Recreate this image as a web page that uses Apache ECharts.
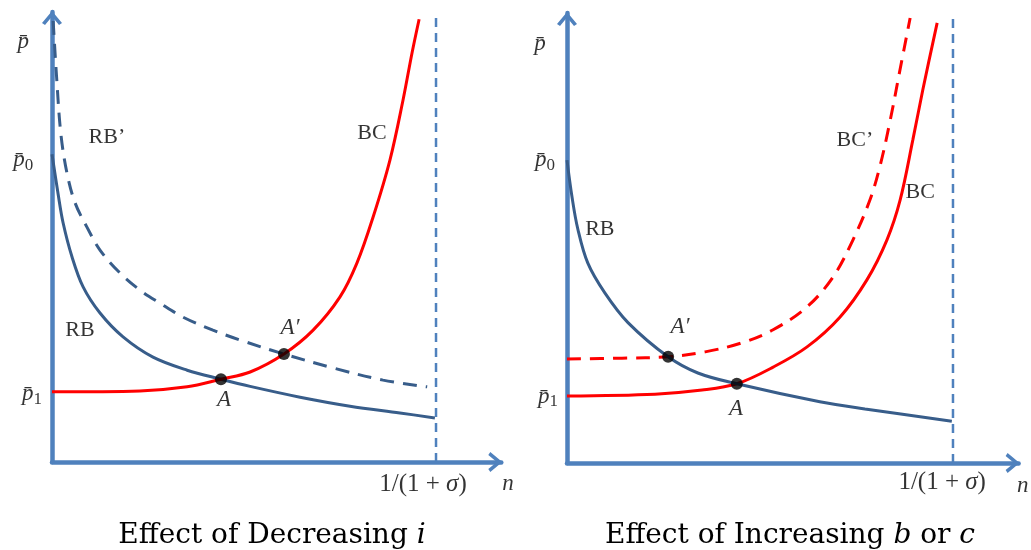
<!DOCTYPE html>
<html>
<head>
<meta charset="utf-8">
<script src="https://cdn.jsdelivr.net/npm/echarts@6/dist/echarts.min.js"></script>
<style>
html,body{margin:0;padding:0;background:#fff;}
#chart{width:1031px;height:550px;}
</style>
</head>
<body>
<div id="chart"></div>
<script>
// ---- data (n in units of 1/(1+sigma), p in arbitrary units 0..10) ----
const leftBC   = [[0,1.56],[0.229,1.58],[0.352,1.67],[0.44,1.84],[0.516,2.0],[0.604,2.4],[0.68,2.93],[0.75,3.67],[0.794,4.42],[0.836,5.44],[0.88,6.71],[0.914,8.04],[0.9375,9.09],[0.956,9.84]];
const leftRB   = [[0,6.84],[0.016,5.95],[0.029,5.31],[0.052,4.56],[0.081,3.89],[0.125,3.31],[0.185,2.78],[0.263,2.33],[0.352,2.04],[0.44,1.84],[0.516,1.68],[0.646,1.44],[0.776,1.24],[0.906,1.09],[0.997,0.98]];
const leftRBp  = [[0.003,9.8],[0.012,8.55],[0.023,7.3],[0.039,6.42],[0.06,5.76],[0.091,5.22],[0.125,4.71],[0.177,4.2],[0.229,3.82],[0.281,3.53],[0.341,3.22],[0.419,2.93],[0.49,2.71],[0.604,2.4],[0.732,2.09],[0.862,1.82],[0.977,1.67]];
const leftPts  = [[0.44,1.84],[0.604,2.4]];

const rightRB  = [[0,6.73],[0.013,5.91],[0.028,5.2],[0.054,4.44],[0.098,3.78],[0.158,3.12],[0.262,2.36],[0.339,2.0],[0.44,1.76],[0.655,1.36],[0.772,1.2],[0.997,0.93]];
const rightBC  = [[0,1.49],[0.228,1.53],[0.35,1.62],[0.44,1.76],[0.534,2.13],[0.622,2.58],[0.707,3.24],[0.777,4.07],[0.829,4.96],[0.863,5.84],[0.896,7.18],[0.922,8.3],[0.959,9.78]];
const rightBCp = [[0,2.31],[0.142,2.33],[0.262,2.36],[0.358,2.47],[0.453,2.67],[0.534,2.96],[0.622,3.47],[0.689,4.13],[0.741,4.96],[0.785,5.85],[0.811,6.6],[0.837,7.6],[0.863,8.75],[0.889,9.89]];
const rightPts = [[0.44,1.76],[0.262,2.36]];

const asymptote = [[1,0],[1,9.87]];

// annotation anchors: [x, y, text]
const SIGMA_LABEL = '{b|1/(1 + }{bm|\u03c3}{b|)}';
const leftNotes  = [[-0.075,9.33,'{m|p\u0304}'],[-0.075,6.71,'{m|p\u0304}{s|0}'],[-0.052,1.51,'{m|p\u0304}{s|1}'],
                    [0.143,7.22,'{r|RB\u2019}'],[0.833,7.31,'{r|BC}'],[0.073,2.93,'{r|RB}'],
                    [0.62,2.98,'{m|A\u2032}'],[0.448,1.38,'{m|A}'],
                    [0.966,-0.49,SIGMA_LABEL],[1.1875,-0.49,'{m|n}']];
const rightNotes = [[-0.07,9.31,'{m|p\u0304}'],[-0.057,6.73,'{m|p\u0304}{s|0}'],[-0.049,1.47,'{m|p\u0304}{s|1}'],
                    [0.085,5.2,'{r|RB}'],[0.746,7.18,'{r|BC\u2019}'],[0.915,6.02,'{r|BC}'],
                    [0.293,3.02,'{m|A\u2032}'],[0.438,1.2,'{m|A}'],
                    [0.972,-0.44,SIGMA_LABEL],[1.181,-0.51,'{m|n}']];
const titles = ['Effect of Decreasing {m|i}', 'Effect of Increasing {m|b} or {m|c}'];

// ---- styling ----
const AXIS = '#4f81bd', NAVY = '#385d8a', RED = '#ff0000';
const SERIF = '"Liberation Serif", "DejaVu Serif", serif';
const TSERIF = '"DejaVu Serif", "Liberation Serif", serif';
const rich = {
  m: {fontFamily: SERIF, fontStyle: 'italic', fontSize: 23, color: '#000', textBorderWidth: 0},
  s: {fontFamily: SERIF, fontSize: 17, color: '#000', padding: [10, 0, 0, 0], textBorderWidth: 0},
  r: {fontFamily: SERIF, fontSize: 22, color: '#000', textBorderWidth: 0},
  b: {fontFamily: SERIF, fontSize: 25, color: '#000', textBorderWidth: 0},
  bm: {fontFamily: SERIF, fontStyle: 'italic', fontSize: 25, color: '#000', textBorderWidth: 0}
};
const chevron = 'path://M0,12 L10,0 L20,12 L17,14 L10,5.5 L3,14 Z';

function xAx(i) {
  return {type: 'value', gridIndex: i, min: 0, max: 1.17,
    axisLine: {show: true, lineStyle: {color: AXIS, width: 4.5}, symbol: ['none', chevron], symbolSize: [20, 14], symbolOffset: [0, -6]},
    axisTick: {show: false}, axisLabel: {show: false}, splitLine: {show: false}};
}
function yAx(i) {
  return {type: 'value', gridIndex: i, min: 0, max: 10,
    axisLine: {show: true, onZero: false, lineStyle: {color: AXIS, width: 4.5}, symbol: ['none', chevron], symbolSize: [20, 14], symbolOffset: [0, -6]},
    axisTick: {show: false}, axisLabel: {show: false}, splitLine: {show: false}};
}
function curve(i, data, color, dashed) {
  return {type: 'line', xAxisIndex: i, yAxisIndex: i, data: data, showSymbol: false,
    smooth: 0.35, silent: true, z: 3,
    lineStyle: {color: color, width: 3, type: dashed ? [14, 9] : 'solid'}};
}
function vline(i) {
  return {type: 'line', xAxisIndex: i, yAxisIndex: i, data: asymptote, showSymbol: false, silent: true, z: 2,
    lineStyle: {color: AXIS, width: 2.5, type: [9, 6]}};
}
function dots(i, data) {
  return {type: 'scatter', xAxisIndex: i, yAxisIndex: i, data: data, symbolSize: 12, z: 5,
    itemStyle: {color: '#000'}, silent: true};
}
function notes(i, arr) {
  return {type: 'scatter', xAxisIndex: i, yAxisIndex: i, clip: false, symbolSize: 0, silent: true, z: 6,
    itemStyle: {color: 'transparent'},
    data: arr.map(a => ({value: [a[0], a[1]], name: a[2]})),
    label: {show: true, position: 'inside', color: '#000', textBorderWidth: 0, formatter: p => p.name, rich: rich}};
}
function titleOpt(text, x) {
  return {text: text, left: x, top: 517, textAlign: 'center',
    textStyle: {fontFamily: TSERIF, fontWeight: 'normal', fontSize: 28, color: '#000',
      rich: {m: {fontFamily: TSERIF, fontStyle: 'italic', fontSize: 28, color: '#000'}}}};
}

const chart = echarts.init(document.getElementById('chart'), null, {renderer: 'canvas'});
chart.setOption({
  animation: false,
  backgroundColor: '#fff',
  title: [titleOpt(titles[0], 267), titleOpt(titles[1], 785)],
  grid: [
    {left: 52, top: 12, width: 449.3, height: 450},
    {left: 567, top: 13, width: 451.6, height: 450}
  ],
  xAxis: [xAx(0), xAx(1)],
  yAxis: [yAx(0), yAx(1)],
  series: [
    vline(0),
    curve(0, leftRBp, NAVY, true),
    curve(0, leftRB, NAVY, false),
    curve(0, leftBC, RED, false),
    dots(0, leftPts),
    notes(0, leftNotes),
    vline(1),
    curve(1, rightBCp, RED, true),
    curve(1, rightBC, RED, false),
    curve(1, rightRB, NAVY, false),
    dots(1, rightPts),
    notes(1, rightNotes)
  ]
});
</script>
</body>
</html>
